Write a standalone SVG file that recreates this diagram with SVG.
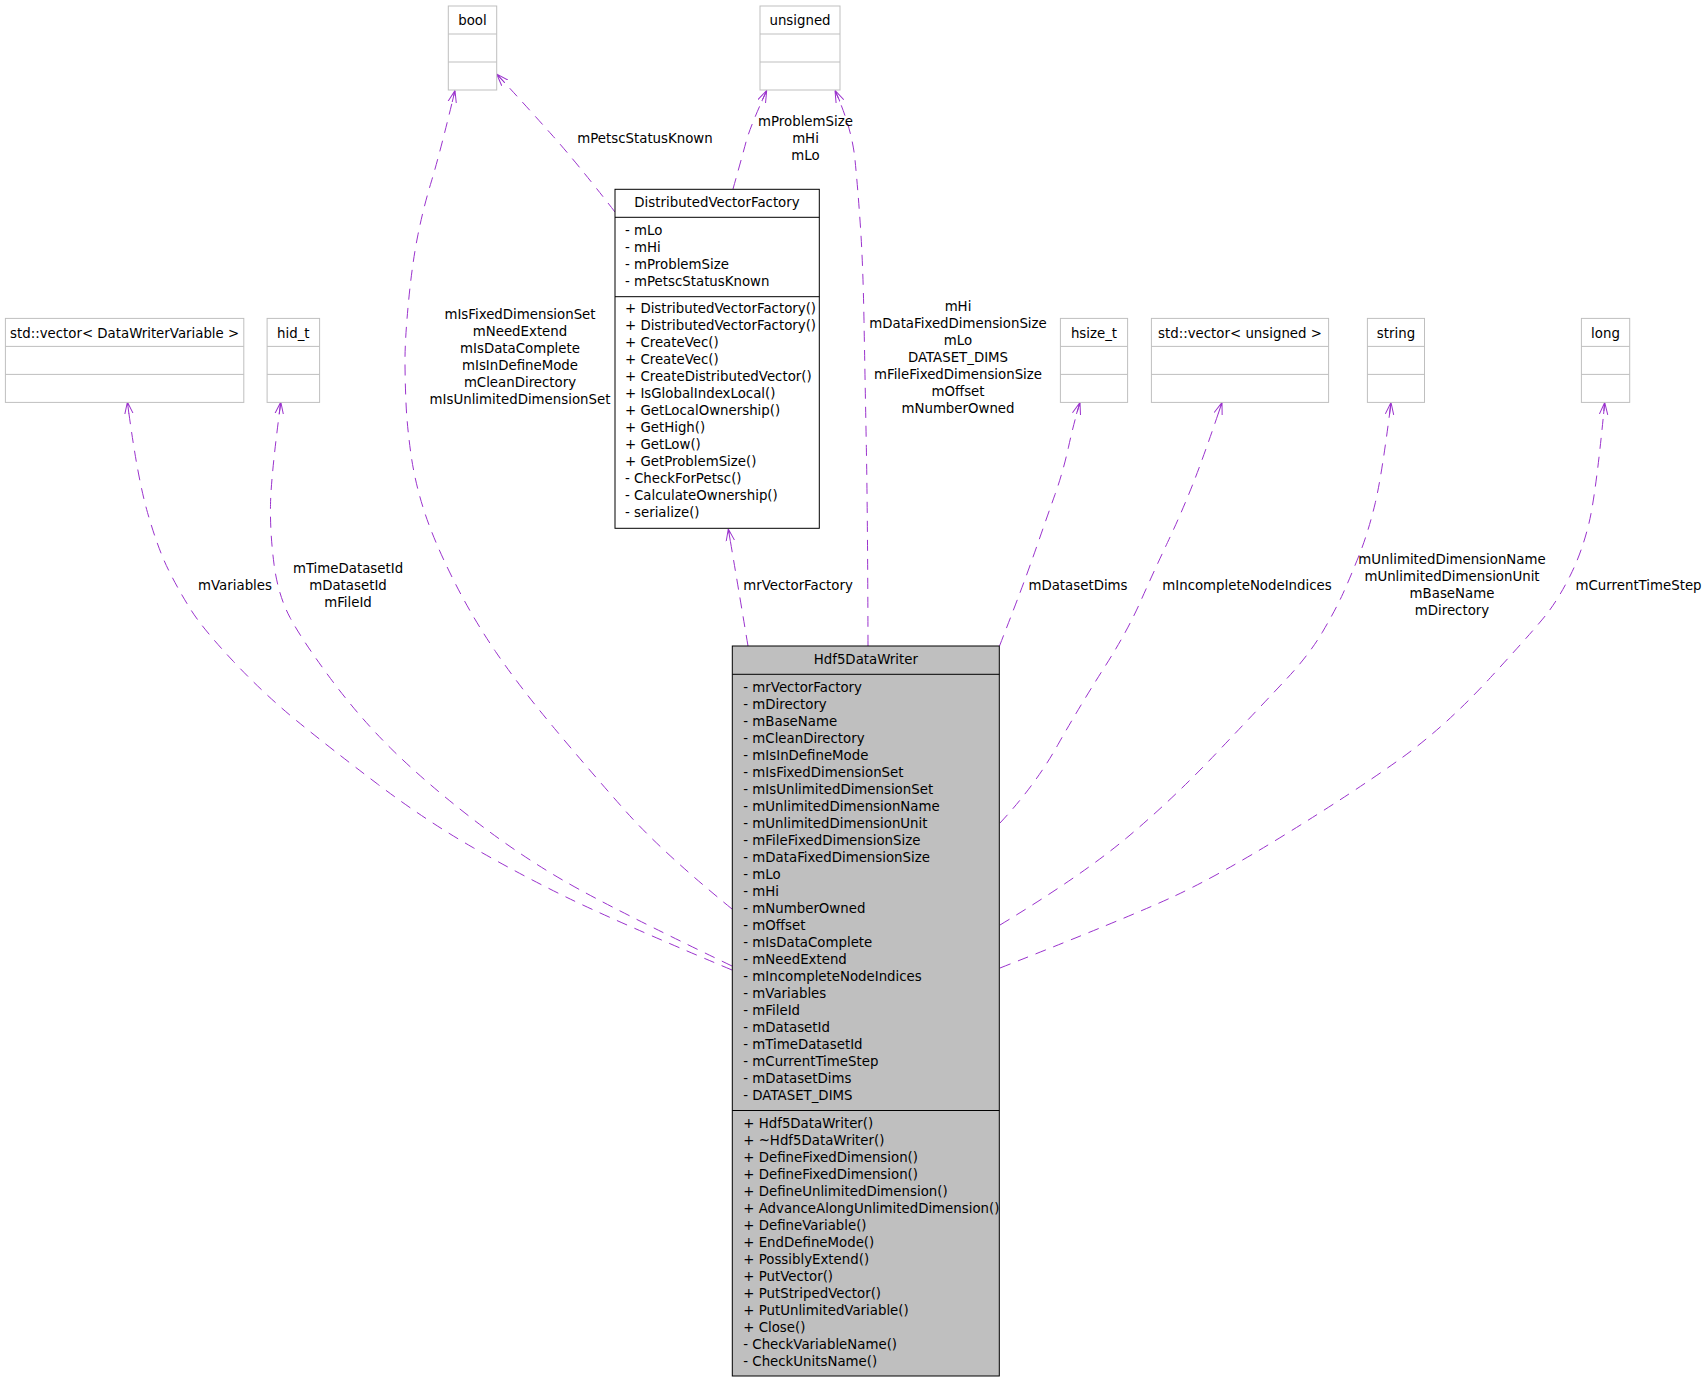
<svg xmlns="http://www.w3.org/2000/svg" width="1704" height="1381" viewBox="0 0 1704 1381">
<style>
text{font-family:"DejaVu Sans","Liberation Sans",sans-serif;font-size:13.33px;fill:#000}
.c{text-anchor:middle}
.tb{fill:#fff;stroke:#bfbfbf;stroke-width:1}
.ln{stroke:#bfbfbf;stroke-width:1}
.kb{fill:#fff;stroke:#000;stroke-width:1}
.kl{stroke:#000;stroke-width:1}
.hb{fill:#bfbfbf;stroke:#000;stroke-width:1}
.e{fill:none;stroke:#9a32cd;stroke-width:1;stroke-dasharray:11,8;marker-end:url(#arr)}
</style>
<defs>
<marker id="arr" viewBox="0 0 12 10" refX="12" refY="5" markerWidth="12" markerHeight="10" markerUnits="userSpaceOnUse" orient="auto">
<path d="M0,0.8 L12,5 L0,9.2 M0,5 L12,5" fill="none" stroke="#9a32cd" stroke-width="1"/>
</marker>
</defs>
<rect width="1704" height="1381" fill="#fff"/>

<g id="edges">
<path class="e" d="M732,970 Q613,920 566,897 Q519,874 472,847 Q425,820 377.5,784 Q330,748 297,721 Q264,694 233.5,661.5 Q203,629 191,610 Q179,591 168.5,570 Q158,549 147.5,512.5 Q137,476 127.4,402"/>
<path class="e" d="M732,966 Q613,909 566,882 Q519,855 472,818.5 Q425,782 392,749.5 Q359,717 330.5,678.5 Q302,640 290,617.5 Q278,595 274,564 Q270,533 270.5,504.5 Q271,476 280.8,402"/>
<path class="e" d="M732,909 Q661,851 625.5,811 Q590,771 554.5,728.5 Q519,686 495.5,651.5 Q472,617 453,579 Q434,541 424.5,512 Q415,483 411,454.5 Q407,426 406,403 Q405,380 405,359.5 Q405,339 408.5,302 Q412,265 417.5,237 Q423,209 431.5,181 Q440,153 455,90.5"/>
<path class="e" d="M615,212 Q577,163 552,135 Q527,107 496.7,74"/>
<path class="e" d="M733,189 Q742,157 746,142 Q750,127 766.7,90.5"/>
<path class="e" d="M868,646 Q867.7,524 866.4,450 Q865,376 864,320.5 Q863,265 860.5,227.5 Q858,190 854.9,158.8 Q851.7,127.5 835,90.5"/>
<path class="e" d="M748,646 Q737,580 728.3,529"/>
<path class="e" d="M999.5,646 Q1017,601 1024,582 Q1031,563 1039,540 Q1047,517 1055,494.5 Q1063,472 1068.5,447 Q1074,422 1080,402.5"/>
<path class="e" d="M1000,823 Q1035.5,785 1058,744.5 Q1081,704 1104,668 Q1127,632 1140.5,601.5 Q1154,571 1167.5,542.5 Q1181,514 1192.5,485 Q1204,456 1222,402.5"/>
<path class="e" d="M1000,925 Q1081,876 1126.5,838 Q1172,800 1217.5,752 Q1263,704 1286,679.5 Q1309,655 1322.5,632 Q1336,609 1343,593.5 Q1350,578 1359,555.5 Q1368,533 1375,504 Q1382,475 1391,402.5"/>
<path class="e" d="M1000,968 Q1127,918 1172.5,897 Q1218,876 1286,834 Q1354,792 1399.5,759.5 Q1445,727 1490.5,677.5 Q1536,628 1547.5,613 Q1559,598 1570.5,575 Q1582,552 1589,523 Q1596,494 1604.7,402.5"/>

<text class="c" x="235" y="590">mVariables</text>
<text class="c" x="348" y="573">mTimeDatasetId</text>
<text class="c" x="348" y="590">mDatasetId</text>
<text class="c" x="348" y="607">mFileId</text>
<text class="c" x="520" y="319">mIsFixedDimensionSet</text>
<text class="c" x="520" y="336">mNeedExtend</text>
<text class="c" x="520" y="353">mIsDataComplete</text>
<text class="c" x="520" y="370">mIsInDefineMode</text>
<text class="c" x="520" y="387">mCleanDirectory</text>
<text class="c" x="520" y="404">mIsUnlimitedDimensionSet</text>
<text class="c" x="645" y="143">mPetscStatusKnown</text>
<text class="c" x="805.5" y="126">mProblemSize</text>
<text class="c" x="805.5" y="143">mHi</text>
<text class="c" x="805.5" y="160">mLo</text>
<text class="c" x="958" y="311">mHi</text>
<text class="c" x="958" y="328">mDataFixedDimensionSize</text>
<text class="c" x="958" y="345">mLo</text>
<text class="c" x="958" y="362">DATASET_DIMS</text>
<text class="c" x="958" y="379">mFileFixedDimensionSize</text>
<text class="c" x="958" y="396">mOffset</text>
<text class="c" x="958" y="413">mNumberOwned</text>
<text class="c" x="798" y="590">mrVectorFactory</text>
<text class="c" x="1078" y="590">mDatasetDims</text>
<text class="c" x="1247" y="590">mIncompleteNodeIndices</text>
<text class="c" x="1452" y="564">mUnlimitedDimensionName</text>
<text class="c" x="1452" y="581">mUnlimitedDimensionUnit</text>
<text class="c" x="1452" y="598">mBaseName</text>
<text class="c" x="1452" y="615">mDirectory</text>
<text class="c" x="1638.6" y="590">mCurrentTimeStep</text>
</g>

<g id="bool">
<rect class="tb" x="448.3" y="6" width="48.4" height="84"/>
<line class="ln" x1="448.3" y1="34" x2="496.7" y2="34"/>
<line class="ln" x1="448.3" y1="62" x2="496.7" y2="62"/>
<text class="c" x="472.5" y="25">bool</text>
</g>
<g id="unsigned">
<rect class="tb" x="760" y="6" width="80" height="84"/>
<line class="ln" x1="760" y1="34" x2="840" y2="34"/>
<line class="ln" x1="760" y1="62" x2="840" y2="62"/>
<text class="c" x="800" y="25">unsigned</text>
</g>
<g id="vectorDWV">
<rect class="tb" x="5.4" y="318.4" width="238.4" height="84"/>
<line class="ln" x1="5.4" y1="346.4" x2="243.8" y2="346.4"/>
<line class="ln" x1="5.4" y1="374.4" x2="243.8" y2="374.4"/>
<text class="c" x="124.6" y="338">std::vector&lt; DataWriterVariable &gt;</text>
</g>
<g id="hid_t">
<rect class="tb" x="267.1" y="318.4" width="52.5" height="84"/>
<line class="ln" x1="267.1" y1="346.4" x2="319.6" y2="346.4"/>
<line class="ln" x1="267.1" y1="374.4" x2="319.6" y2="374.4"/>
<text class="c" x="293.3" y="338">hid_t</text>
</g>
<g id="hsize_t">
<rect class="tb" x="1060.4" y="318.4" width="67.2" height="84"/>
<line class="ln" x1="1060.4" y1="346.4" x2="1127.6" y2="346.4"/>
<line class="ln" x1="1060.4" y1="374.4" x2="1127.6" y2="374.4"/>
<text class="c" x="1094" y="338">hsize_t</text>
</g>
<g id="vectorUnsigned">
<rect class="tb" x="1151.4" y="318.4" width="177.2" height="84"/>
<line class="ln" x1="1151.4" y1="346.4" x2="1328.6" y2="346.4"/>
<line class="ln" x1="1151.4" y1="374.4" x2="1328.6" y2="374.4"/>
<text class="c" x="1240" y="338">std::vector&lt; unsigned &gt;</text>
</g>
<g id="string">
<rect class="tb" x="1367.4" y="318.4" width="57.1" height="84"/>
<line class="ln" x1="1367.4" y1="346.4" x2="1424.5" y2="346.4"/>
<line class="ln" x1="1367.4" y1="374.4" x2="1424.5" y2="374.4"/>
<text class="c" x="1396" y="338">string</text>
</g>
<g id="long">
<rect class="tb" x="1581.4" y="318.4" width="48.3" height="84"/>
<line class="ln" x1="1581.4" y1="346.4" x2="1629.7" y2="346.4"/>
<line class="ln" x1="1581.4" y1="374.4" x2="1629.7" y2="374.4"/>
<text class="c" x="1605.5" y="338">long</text>
</g>

<g id="DistributedVectorFactory">
<rect class="kb" x="615" y="189.3" width="204.3" height="339"/>
<line class="kl" x1="615" y1="217.3" x2="819.3" y2="217.3"/>
<line class="kl" x1="615" y1="296.7" x2="819.3" y2="296.7"/>
<text class="c" x="717" y="206.7">DistributedVectorFactory</text>
<text x="625" y="235">- mLo</text>
<text x="625" y="252">- mHi</text>
<text x="625" y="269">- mProblemSize</text>
<text x="625" y="286">- mPetscStatusKnown</text>
<text x="625" y="312.7">+ DistributedVectorFactory()</text>
<text x="625" y="329.7">+ DistributedVectorFactory()</text>
<text x="625" y="346.7">+ CreateVec()</text>
<text x="625" y="363.7">+ CreateVec()</text>
<text x="625" y="380.7">+ CreateDistributedVector()</text>
<text x="625" y="397.7">+ IsGlobalIndexLocal()</text>
<text x="625" y="414.7">+ GetLocalOwnership()</text>
<text x="625" y="431.7">+ GetHigh()</text>
<text x="625" y="448.7">+ GetLow()</text>
<text x="625" y="465.7">+ GetProblemSize()</text>
<text x="625" y="482.7">- CheckForPetsc()</text>
<text x="625" y="499.7">- CalculateOwnership()</text>
<text x="625" y="516.7">- serialize()</text>
</g>

<g id="Hdf5DataWriter">
<rect class="hb" x="732.3" y="646" width="267" height="730"/>
<line class="kl" x1="732.3" y1="674.3" x2="999.3" y2="674.3"/>
<line class="kl" x1="732.3" y1="1110.5" x2="999.3" y2="1110.5"/>
<text class="c" x="865.8" y="664">Hdf5DataWriter</text>
<text x="743.3" y="692.3">- mrVectorFactory</text>
<text x="743.3" y="709.3">- mDirectory</text>
<text x="743.3" y="726.3">- mBaseName</text>
<text x="743.3" y="743.3">- mCleanDirectory</text>
<text x="743.3" y="760.3">- mIsInDefineMode</text>
<text x="743.3" y="777.3">- mIsFixedDimensionSet</text>
<text x="743.3" y="794.3">- mIsUnlimitedDimensionSet</text>
<text x="743.3" y="811.3">- mUnlimitedDimensionName</text>
<text x="743.3" y="828.3">- mUnlimitedDimensionUnit</text>
<text x="743.3" y="845.3">- mFileFixedDimensionSize</text>
<text x="743.3" y="862.3">- mDataFixedDimensionSize</text>
<text x="743.3" y="879.3">- mLo</text>
<text x="743.3" y="896.3">- mHi</text>
<text x="743.3" y="913.3">- mNumberOwned</text>
<text x="743.3" y="930.3">- mOffset</text>
<text x="743.3" y="947.3">- mIsDataComplete</text>
<text x="743.3" y="964.3">- mNeedExtend</text>
<text x="743.3" y="981.3">- mIncompleteNodeIndices</text>
<text x="743.3" y="998.3">- mVariables</text>
<text x="743.3" y="1015.3">- mFileId</text>
<text x="743.3" y="1032.3">- mDatasetId</text>
<text x="743.3" y="1049.3">- mTimeDatasetId</text>
<text x="743.3" y="1066.3">- mCurrentTimeStep</text>
<text x="743.3" y="1083.3">- mDatasetDims</text>
<text x="743.3" y="1100.3">- DATASET_DIMS</text>
<text x="743.3" y="1128.3">+ Hdf5DataWriter()</text>
<text x="743.3" y="1145.3">+ ~Hdf5DataWriter()</text>
<text x="743.3" y="1162.3">+ DefineFixedDimension()</text>
<text x="743.3" y="1179.3">+ DefineFixedDimension()</text>
<text x="743.3" y="1196.3">+ DefineUnlimitedDimension()</text>
<text x="743.3" y="1213.3">+ AdvanceAlongUnlimitedDimension()</text>
<text x="743.3" y="1230.3">+ DefineVariable()</text>
<text x="743.3" y="1247.3">+ EndDefineMode()</text>
<text x="743.3" y="1264.3">+ PossiblyExtend()</text>
<text x="743.3" y="1281.3">+ PutVector()</text>
<text x="743.3" y="1298.3">+ PutStripedVector()</text>
<text x="743.3" y="1315.3">+ PutUnlimitedVariable()</text>
<text x="743.3" y="1332.3">+ Close()</text>
<text x="743.3" y="1349.3">- CheckVariableName()</text>
<text x="743.3" y="1366.3">- CheckUnitsName()</text>
</g>
</svg>
